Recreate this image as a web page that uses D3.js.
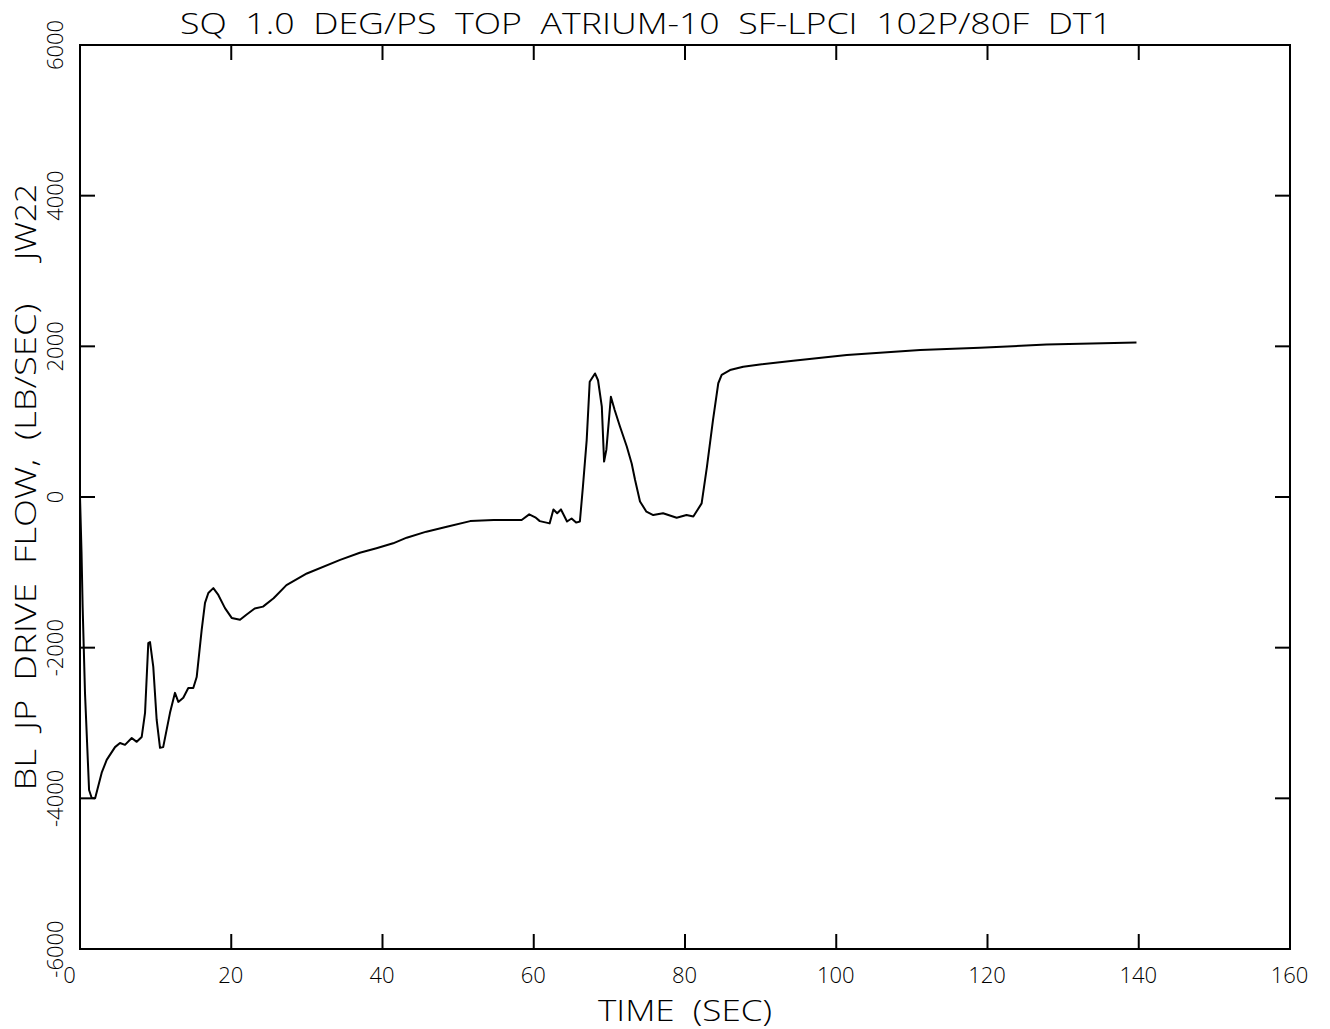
<!DOCTYPE html>
<html><head><meta charset="utf-8">
<script src="https://cdn.jsdelivr.net/npm/d3@7"></script>
<style>
html,body{margin:0;padding:0;background:#fff;}
text{font-family:"Open Sans","Liberation Sans",Arial,sans-serif;font-weight:300;fill:#000;white-space:pre;}
</style></head>
<body>
<svg id="chart" width="1330" height="1029"></svg>
<script>
const titleText = "SQ  1.0  DEG/PS  TOP  ATRIUM-10  SF-LPCI  102P/80F  DT1";
const xTitle = "TIME  (SEC)";
const yTitle = "BL  JP  DRIVE  FLOW,  (LB/SEC)";
const yTitle2 = "JW22";
const xTicks = [0, 20, 40, 60, 80, 100, 120, 140, 160];
const yTicks = [-6000, -4000, -2000, 0, 2000, 4000, 6000];

const time = [0,0.2,0.35,0.66,1.2,1.55,2.0,2.87,3.53,4.63,5.29,5.95,6.84,7.5,8.16,8.6,9.03,9.26,9.69,10.14,10.58,11.0,11.9,12.56,13.0,13.66,14.32,14.98,15.43,16.09,16.53,16.97,17.63,18.29,19.17,20.06,21.16,22.04,23.1,24.2,25.6,27.3,30.0,34.4,37.0,39.2,41.4,43.2,45.8,48.5,51.6,54.7,58.4,59.4,60.2,60.8,62.1,62.6,63.1,63.6,64.4,65.0,65.6,66.1,66.5,67.0,67.4,68.1,68.5,69.0,69.3,69.6,70.2,70.7,71.4,72.3,72.95,73.4,74.05,74.9,75.8,77.1,78.9,80.2,81.1,82.2,82.9,83.7,84.4,84.85,85.95,87.7,89.9,94.3,101.4,111.1,119.0,127.8,139.7];
const flow = [0,-730,-1460,-2600,-3890,-3995,-4000,-3660,-3490,-3320,-3265,-3290,-3200,-3250,-3185,-2865,-1940,-1925,-2255,-2960,-3330,-3320,-2865,-2600,-2720,-2665,-2535,-2535,-2390,-1765,-1405,-1275,-1210,-1300,-1475,-1605,-1630,-1560,-1480,-1455,-1345,-1170,-1015,-835,-740,-680,-615,-540,-460,-395,-320,-305,-305,-230,-270,-320,-350,-165,-215,-165,-325,-285,-340,-325,135,755,1530,1640,1550,1200,470,625,1330,1155,935,670,445,225,-60,-195,-240,-215,-275,-240,-260,-85,400,1020,1510,1620,1685,1730,1760,1810,1885,1950,1980,2025,2050];

const svg = d3.select("#chart");
const L = 80, R = 1290, T = 45, B = 949;
const x = d3.scaleLinear().domain([0, 160]).range([L, R]);
const y = d3.scaleLinear().domain([-6000, 6000]).range([B, T]);

// frame
svg.append("rect").attr("x", L).attr("y", T).attr("width", R - L).attr("height", B - T)
  .attr("fill", "none").attr("stroke", "#000").attr("stroke-width", 2);

const tickLen = 15;
const inner = xTicks.filter(d => d > 0 && d < 160);
const innerY = yTicks.filter(d => d > -6000 && d < 6000);

// bottom axis labels
const gB = svg.append("g").attr("transform", `translate(0,${B})`)
  .call(d3.axisBottom(x).tickValues(xTicks).tickSize(0).tickPadding(18).tickFormat(d3.format("d")));
gB.select(".domain").remove();
gB.selectAll("text").attr("font-size", 22).attr("font-family", null)
  .attr("dx", d => d === 0 ? -11 : -1);

const tickStyle = sel => sel.attr("stroke", "#000").attr("stroke-width", 2);
svg.append("g").selectAll("line").data(inner).join("line")
  .attr("x1", d => x(d)).attr("x2", d => x(d)).attr("y1", B).attr("y2", B - tickLen).call(tickStyle);
svg.append("g").selectAll("line").data(inner).join("line")
  .attr("x1", d => x(d)).attr("x2", d => x(d)).attr("y1", T).attr("y2", T + tickLen).call(tickStyle);
svg.append("g").selectAll("line").data(innerY).join("line")
  .attr("x1", L).attr("x2", L + tickLen).attr("y1", d => y(d)).attr("y2", d => y(d)).call(tickStyle);
svg.append("g").selectAll("line").data(innerY).join("line")
  .attr("x1", R).attr("x2", R - tickLen).attr("y1", d => y(d)).attr("y2", d => y(d)).call(tickStyle);

// left tick labels rotated
svg.append("g").selectAll("text").data(yTicks).join("text")
  .attr("transform", d => `translate(63,${y(d)}) rotate(-90)`)
  .attr("text-anchor", "middle").attr("font-size", 22)
  .text(d => d3.format("d")(d).replace("\u2212", "-"));

// curve
const pts = time.map((t, i) => [t, flow[i]]);
svg.append("path").datum(pts)
  .attr("fill", "none").attr("stroke", "#000").attr("stroke-width", 2).attr("stroke-linejoin", "round")
  .attr("d", d3.line().x(d => x(d[0])).y(d => y(d[1])));

// titles
svg.append("text").attr("x", 646).attr("y", 34).attr("text-anchor", "middle")
  .attr("font-size", 30).attr("textLength", 932).attr("lengthAdjust", "spacingAndGlyphs").text(titleText);
svg.append("text").attr("x", 685).attr("y", 1021).attr("text-anchor", "middle")
  .attr("font-size", 30).attr("textLength", 174).attr("lengthAdjust", "spacingAndGlyphs").text(xTitle);
svg.append("text").attr("transform", "translate(36,547) rotate(-90)").attr("text-anchor", "middle")
  .attr("font-size", 30).attr("textLength", 487).attr("lengthAdjust", "spacingAndGlyphs").text(yTitle);
svg.append("text").attr("transform", "translate(36,222) rotate(-90)").attr("text-anchor", "middle")
  .attr("font-size", 30).attr("textLength", 76).attr("lengthAdjust", "spacingAndGlyphs").text(yTitle2);
</script>
</body></html>
